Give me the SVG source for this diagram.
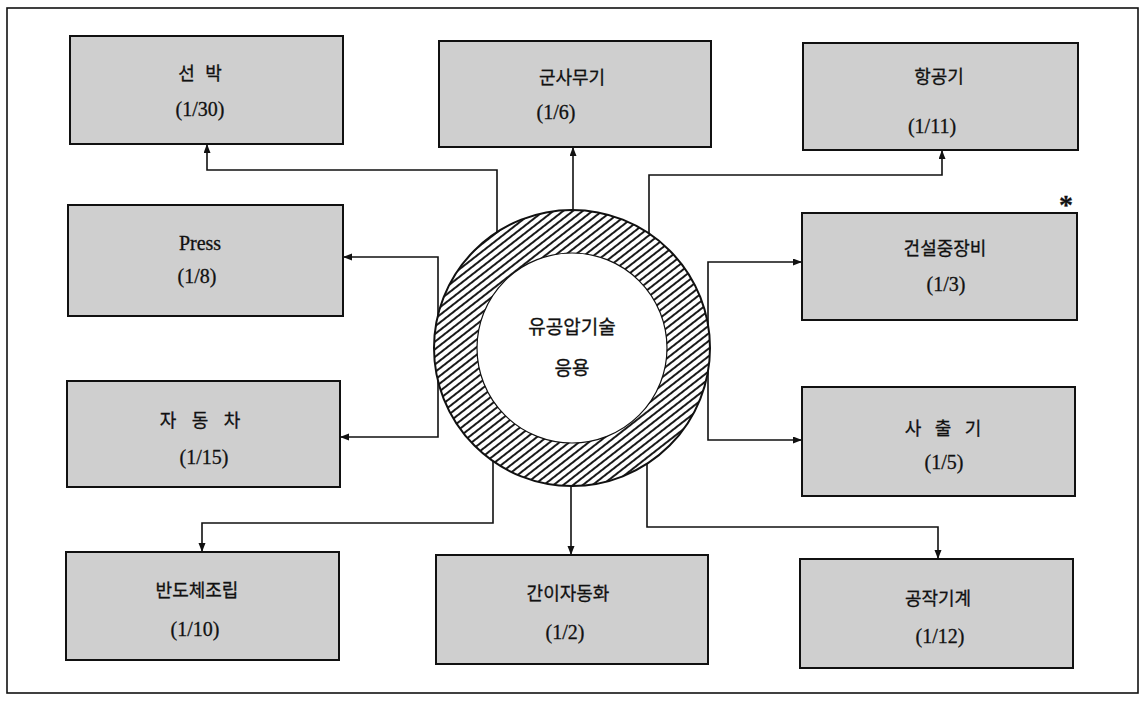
<svg xmlns="http://www.w3.org/2000/svg" width="1145" height="703" viewBox="0 0 1145 703">
<defs>
<style>
.box{fill:#cfcfcf;stroke:#111;stroke-width:2}
.t{font-family:"Liberation Serif","Noto Sans CJK KR",serif;fill:#111;text-anchor:middle;stroke:#111;stroke-width:0.3}
.k{font-size:18px}
.n{font-size:20px}
.c{font-size:19px}
.conn{fill:none;stroke:#111;stroke-width:1.6}
</style>
<marker id="ah" markerUnits="userSpaceOnUse" markerWidth="10" markerHeight="8" refX="9" refY="3.5" orient="auto">
<path d="M0,0 L9,3.5 L0,7 z" fill="#111"/>
</marker>
<pattern id="hatch" patternUnits="userSpaceOnUse" width="8" height="6" patternTransform="rotate(-38)">
<rect width="8" height="6" fill="#fff"/>
<line x1="0" y1="3" x2="8" y2="3" stroke="#000" stroke-width="1.8"/>
</pattern>
</defs>
<rect width="1145" height="703" fill="#fff"/>
<rect x="7" y="8" width="1131" height="685" fill="none" stroke="#111" stroke-width="1.6"/>

<g id="connectors">
<path class="conn" d="M497,232 V170 H207 V144" marker-end="url(#ah)"/>
<path class="conn" d="M573,210 V147" marker-end="url(#ah)"/>
<path class="conn" d="M649,233 V175 H942 V150" marker-end="url(#ah)"/>
<path class="conn" d="M438,347 V257 H343" marker-end="url(#ah)"/>
<path class="conn" d="M438,347 V437 H340" marker-end="url(#ah)"/>
<path class="conn" d="M708,348 V262 H802" marker-end="url(#ah)"/>
<path class="conn" d="M708,348 V440 H802" marker-end="url(#ah)"/>
<path class="conn" d="M493,461 V523 H202 V552" marker-end="url(#ah)"/>
<path class="conn" d="M571,486 V555" marker-end="url(#ah)"/>
<path class="conn" d="M647,464 V527 H938 V559" marker-end="url(#ah)"/>
</g>

<g id="hub">
<circle cx="572" cy="348" r="138" fill="url(#hatch)" stroke="#111" stroke-width="2"/>
<circle cx="572" cy="348" r="95" fill="#fff" stroke="#111" stroke-width="1.2"/>
<text class="t c" x="572" y="334">유공압기술</text>
<text class="t c" x="572" y="375">응용</text>
</g>

<g id="n-ship">
<rect class="box" x="70" y="36" width="273" height="108"/>
<text class="t k" x="200" y="79.5" word-spacing="6">선 박</text>
<text class="t n" x="200" y="116">(1/30)</text>
</g>
<g id="n-military">
<rect class="box" x="439" y="41" width="272" height="106"/>
<text class="t k" x="572" y="83.5">군사무기</text>
<text class="t n" x="556" y="119">(1/6)</text>
</g>
<g id="n-aircraft">
<rect class="box" x="803" y="43" width="275" height="107"/>
<text class="t k" x="939" y="82.5">항공기</text>
<text class="t n" x="932" y="133">(1/11)</text>
</g>
<g id="n-press">
<rect class="box" x="68" y="205" width="275" height="111"/>
<text class="t n" x="200" y="250">Press</text>
<text class="t n" x="197" y="283">(1/8)</text>
</g>
<g id="n-construction">
<rect class="box" x="802" y="213" width="275" height="107"/>
<text class="t k" x="945" y="254.5">건설중장비</text>
<text class="t n" x="946" y="291">(1/3)</text>
<text class="t" x="1066" y="214" font-size="28" font-weight="bold">*</text>
</g>
<g id="n-auto">
<rect class="box" x="67" y="381" width="273" height="106"/>
<text class="t k" x="200" y="426.5" word-spacing="11">자 동 차</text>
<text class="t n" x="204" y="464">(1/15)</text>
</g>
<g id="n-injection">
<rect class="box" x="802" y="387" width="273" height="109"/>
<text class="t k" x="943" y="434.5" word-spacing="9">사 출 기</text>
<text class="t n" x="944" y="469">(1/5)</text>
</g>
<g id="n-semiconductor">
<rect class="box" x="66" y="552" width="273" height="108"/>
<text class="t k" x="197" y="596.5">반도체조립</text>
<text class="t n" x="195" y="636">(1/10)</text>
</g>
<g id="n-simple-automation">
<rect class="box" x="436" y="555" width="272" height="109"/>
<text class="t k" x="568" y="599.5">간이자동화</text>
<text class="t n" x="565" y="639">(1/2)</text>
</g>
<g id="n-machine-tool">
<rect class="box" x="800" y="559" width="273" height="109"/>
<text class="t k" x="938" y="604.5">공작기계</text>
<text class="t n" x="940" y="643">(1/12)</text>
</g>
</svg>
